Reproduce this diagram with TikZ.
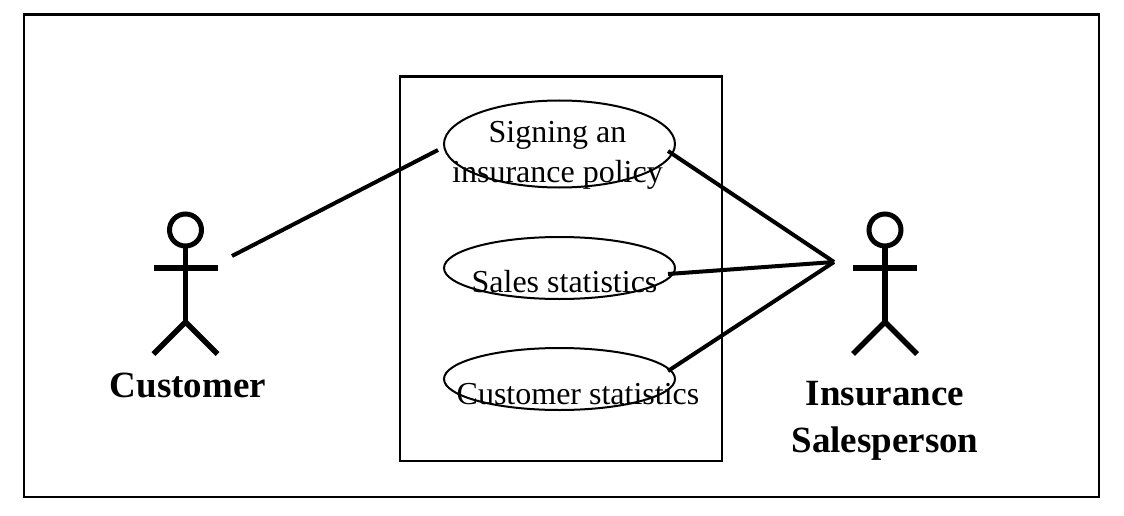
\documentclass[tikz,border=0pt]{standalone}
\usepackage{fontspec}
\setmainfont{Liberation Serif}
\usetikzlibrary{shapes.geometric}

\tikzset{
  usecase/.style={draw,ellipse,line width=2pt,minimum width=231pt,minimum height=87pt,inner sep=0pt},
  frame/.style={draw,line width=2.4pt,anchor=north west,inner sep=0pt},
  caption/.style={inner sep=0pt,align=center},
  link/.style={line width=4pt},
  limb/.style={line width=5.6pt}
}

\newcommand{\stickman}[2]{
  \draw [line width=5pt] (#1,#2) circle (16);
  \draw [limb] (#1,#2+16) -- (#1,#2+92);
  \draw [limb] (#1-32,#2+38) -- (#1+32,#2+38);
  \draw [limb] (#1-32,#2+124) -- (#1,#2+92) -- (#1+32,#2+124);
}

\begin{document}
\begin{tikzpicture}[x=1pt,y=1pt,yscale=-1,xscale=1]
\useasboundingbox (0,0) rectangle (1124,516);
\fill [white] (0,0) rectangle (1124,516);

%outer frame and system box
\node [frame,minimum width=1075pt,minimum height=482pt] (outer) at (22.5,13.5) {};
\node [frame,minimum width=322pt,minimum height=384pt] (system) at (398.5,75.5) {};

%use cases
\node [usecase] (signing) at (559.5,144) {};
\node [usecase,minimum height=62pt] (sales) at (559.5,268) {};
\node [usecase,minimum height=62pt] (stats) at (559.5,379) {};

% Text Node
\node [caption,font=\fontsize{32}{40}\selectfont] (signingtext) at (557.5,155.5) {Signing an\\insurance policy};
\node [caption,font=\fontsize{32}{40}\selectfont] (salestext) at (564.5,282) {Sales statistics};
\node [caption,font=\fontsize{32}{40}\selectfont] (statstext) at (578,394) {Customer statistics};
\node [caption,font=\fontsize{37}{47}\selectfont\bfseries] (customer) at (188,385) {Customer};
\node [caption,font=\fontsize{37}{47}\selectfont\bfseries] (salesperson) at (885,421) {Insurance\\Salesperson};

%actors
\stickman{185.5}{230}
\stickman{885}{230}

%connectors
\coordinate (custend) at (232,256);
\coordinate (custcase) at (438,150);
\coordinate (hub) at (834,262);
\coordinate (signend) at (668,151);
\coordinate (salesend) at (668,274);
\coordinate (statsend) at (668,371);
\draw [link] (custend) -- (custcase);
\draw [link] (signend) -- (hub);
\draw [link] (salesend) -- (hub);
\draw [link] (statsend) -- (hub);
\end{tikzpicture}
\end{document}
